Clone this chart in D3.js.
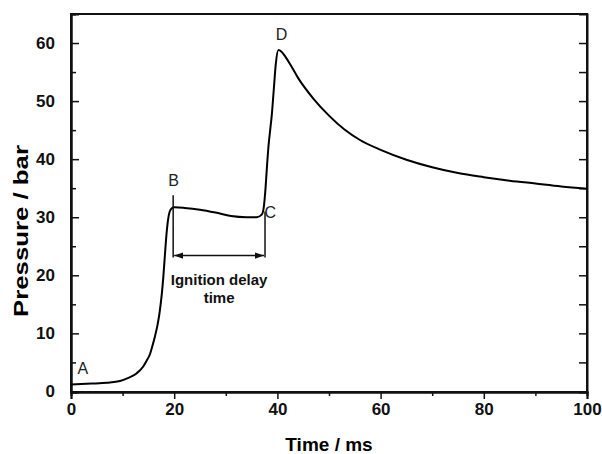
<!DOCTYPE html>
<html>
<head>
<meta charset="utf-8">
<script src="https://cdn.jsdelivr.net/npm/d3@7"></script>
<style>
  body { margin: 0; background: #fff; }
  svg { display: block; font-family: "Liberation Sans", Arial, sans-serif; }
  .axis path, .axis line { stroke: #111; }
  .axis text { font-size: 17px; font-weight: bold; fill: #111; }
</style>
</head>
<body>
<svg id="chart"></svg>
<script>
// pressure trace (time in ms, pressure in bar)
const time = [0, 4, 7, 9.5, 11, 12.7, 14, 14.6, 15.3, 15.8, 16.3, 16.8, 17.2, 17.6, 17.9, 18.2, 18.5, 18.8, 19.1, 19.5, 20,
  22, 25, 28, 31, 34, 36, 37, 37.4, 37.7, 38.0, 38.3, 38.6, 38.9, 39.3, 39.7, 40.2,
  40.8, 41.5, 42.5, 44, 47, 50, 53, 56, 60, 65, 70, 75, 80, 85, 90, 95, 100];
const pressure = [1.2, 1.35, 1.5, 1.8, 2.3, 3.1, 4.3, 5.2, 6.4, 7.9, 9.6, 11.6, 13.8, 16.8, 19.8, 23.5, 27, 29.5, 30.9, 31.5, 31.7,
  31.6, 31.3, 30.8, 30.2, 30.0, 30.0, 30.5, 32, 35, 39, 42.5, 45, 47.5, 52, 56.5, 58.8,
  58.5, 57.7, 56.3, 54.0, 50.4, 47.5, 45.1, 43.3, 41.6, 39.9, 38.6, 37.6, 36.9, 36.3, 35.8, 35.3, 34.9];

const xTicks = [0, 20, 40, 60, 80, 100];
const xMinor = [10, 30, 50, 70, 90];
const yTicks = [0, 10, 20, 30, 40, 50, 60];
const yMinor = [5, 15, 25, 35, 45, 55];

// point labels and the ignition delay bracket
const pointLabels = ['A', 'B', 'C', 'D'];
const pointTime = [2.3, 19.9, 38.6, 40.8];
const pointPressure = [3.0, 35.3, 29.8, 60.5];
const delayStart = 19.8, delayEnd = 37.6, delayLevel = 23.4;
const delayTop = [33.8, 31.0];

const width = 602, height = 454;
const margin = {top: 14, right: 15, bottom: 62, left: 71};

const svg = d3.select('#chart')
  .attr('width', width)
  .attr('height', height);

const x = d3.scaleLinear().domain([0, 100]).range([margin.left, width - margin.right]);
const y = d3.scaleLinear().domain([-0.1, 65]).range([height - margin.bottom, margin.top]);

// frame
svg.append('rect')
  .attr('x', margin.left).attr('y', margin.top)
  .attr('width', width - margin.left - margin.right)
  .attr('height', height - margin.top - margin.bottom)
  .attr('fill', 'none').attr('stroke', '#111').attr('stroke-width', 2);

// bottom axis, ticks outward
const bottom = svg.append('g').attr('class', 'axis')
  .attr('transform', `translate(0,${height - margin.bottom})`);
bottom.call(d3.axisBottom(x).tickValues(xTicks).tickSize(7).tickPadding(4));
bottom.append('g').call(d3.axisBottom(x).tickValues(xMinor).tickSize(4).tickFormat(''));
bottom.selectAll('path.domain').attr('stroke-width', 2);
bottom.selectAll('line').attr('stroke-width', 1.5);

// left axis, ticks inward
const left = svg.append('g').attr('class', 'axis')
  .attr('transform', `translate(${margin.left},0)`);
left.call(d3.axisLeft(y).tickValues(yTicks).tickSize(-8).tickPadding(16));
left.append('g').call(d3.axisLeft(y).tickValues(yMinor).tickSize(-5).tickFormat(''));
left.selectAll('path.domain').attr('stroke-width', 2);
left.selectAll('line').attr('stroke-width', 1.5);

// right axis, ticks inward, no labels
const right = svg.append('g').attr('class', 'axis')
  .attr('transform', `translate(${width - margin.right},0)`);
right.call(d3.axisRight(y).tickValues(yTicks.concat(yMinor)).tickSize(-8).tickFormat(''));
right.selectAll('path.domain').attr('stroke-width', 2);
right.selectAll('line').attr('stroke-width', 1.5);

// axis titles
svg.append('text')
  .attr('x', (margin.left + width - margin.right) / 2)
  .attr('y', 451)
  .attr('text-anchor', 'middle')
  .style('font-size', '19px').style('font-weight', 'bold')
  .text('Time / ms');

svg.append('text')
  .attr('transform', 'translate(28,231) rotate(-90)')
  .attr('text-anchor', 'middle')
  .attr('textLength', 172)
  .attr('lengthAdjust', 'spacingAndGlyphs')
  .style('font-size', '20px').style('font-weight', 'bold')
  .text('Pressure / bar');

// pressure curve
const data = time.map((t, i) => ({t: t, p: pressure[i]}));
const line = d3.line()
  .x(d => x(d.t))
  .y(d => y(d.p))
  .curve(d3.curveMonotoneX);

svg.append('path')
  .datum(data)
  .attr('d', line)
  .attr('fill', 'none')
  .attr('stroke', '#000')
  .attr('stroke-width', 2);

// ignition delay bracket
svg.append('defs').append('marker')
  .attr('id', 'arrow')
  .attr('viewBox', '0 0 10 10')
  .attr('refX', 10).attr('refY', 5)
  .attr('markerWidth', 9).attr('markerHeight', 9)
  .attr('markerUnits', 'userSpaceOnUse')
  .attr('orient', 'auto-start-reverse')
  .append('path')
  .attr('d', 'M0,1.5 L10,5 L0,8.5 Z')
  .attr('fill', '#111');

[delayStart, delayEnd].forEach((t, i) => {
  svg.append('line')
    .attr('x1', x(t)).attr('x2', x(t))
    .attr('y1', y(delayTop[i])).attr('y2', y(delayLevel) + 2)
    .attr('stroke', '#111').attr('stroke-width', 1.5);
});

svg.append('line')
  .attr('x1', x(delayStart) + 1).attr('x2', x(delayEnd) - 1)
  .attr('y1', y(delayLevel)).attr('y2', y(delayLevel))
  .attr('stroke', '#111').attr('stroke-width', 1.5)
  .attr('marker-start', 'url(#arrow)')
  .attr('marker-end', 'url(#arrow)');

const note = svg.append('text')
  .attr('text-anchor', 'middle')
  .style('font-size', '15px').style('font-weight', 'bold')
  .attr('fill', '#111');
note.append('tspan').attr('x', x((delayStart + delayEnd) / 2)).attr('y', 285).text('Ignition delay');
note.append('tspan').attr('x', x((delayStart + delayEnd) / 2)).attr('y', 303).text('time');

// point labels
svg.selectAll('.plabel')
  .data(pointLabels)
  .enter().append('text')
  .attr('class', 'plabel')
  .attr('x', (d, i) => x(pointTime[i]))
  .attr('y', (d, i) => y(pointPressure[i]))
  .attr('text-anchor', 'middle')
  .style('font-size', '16px')
  .attr('fill', '#222')
  .text(d => d);
</script>
</body>
</html>
